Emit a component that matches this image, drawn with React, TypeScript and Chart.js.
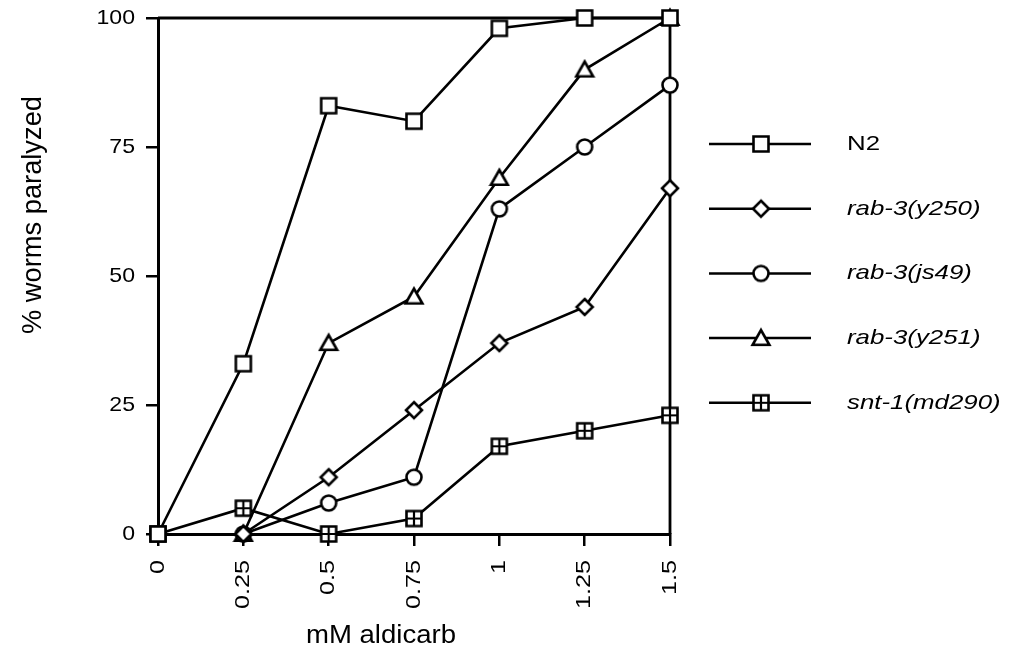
import React, { useEffect, useRef } from 'react';
import { Chart, registerables } from 'chart.js';

Chart.register(...registerables);

const doses = [0, 0.25, 0.5, 0.75, 1, 1.25, 1.5];
const xTickLabels = ['0', '0.25', '0.5', '0.75', '1', '1.25', '1.5'];
const yTickValues = [0, 25, 50, 75, 100];
const yTickLabels = ['0', '25', '50', '75', '100'];
const seriesNames = ['N2', 'rab-3(y250)', 'rab-3(js49)', 'rab-3(y251)', 'snt-1(md290)'];
const italicNames = [false, true, true, true, true];
const n2 = [0, 33, 83, 80, 98, 100, 100];
const rab3y250 = [null, 0, 11, 24, 37, 44, 67];
const rab3js49 = [null, 0, 6, 11, 63, 75, 87];
const rab3y251 = [null, 0, 37, 46, 69, 90, 100];
const snt1md290 = [0, 5, 0, 3, 17, 20, 23];
const markerKinds = ['square', 'diamond', 'circle', 'triangle', 'crossSquare'];
const xTitle = 'mM aldicarb';
const yTitle = '% worms paralyzed';

const FONT = '"Liberation Sans", Arial, Helvetica, sans-serif';

function makeMarker(kind: string): HTMLCanvasElement {
  const c = document.createElement('canvas');
  c.width = 22;
  c.height = 22;
  const ctx = c.getContext('2d')!;
  const cx = 11, cy = 11;
  ctx.lineWidth = 2.6;
  ctx.strokeStyle = '#000';
  ctx.fillStyle = '#fff';
  ctx.beginPath();
  if (kind === 'square' || kind === 'crossSquare') {
    ctx.rect(cx - 7.5, cy - 7.5, 15, 15);
  } else if (kind === 'diamond') {
    ctx.moveTo(cx, cy - 8);
    ctx.lineTo(cx + 8, cy);
    ctx.lineTo(cx, cy + 8);
    ctx.lineTo(cx - 8, cy);
    ctx.closePath();
  } else if (kind === 'circle') {
    ctx.arc(cx, cy, 7.5, 0, Math.PI * 2);
  } else if (kind === 'triangle') {
    ctx.moveTo(cx, cy - 8);
    ctx.lineTo(cx + 8.4, cy + 6.8);
    ctx.lineTo(cx - 8.4, cy + 6.8);
    ctx.closePath();
  }
  ctx.fill();
  ctx.stroke();
  if (kind === 'crossSquare') {
    ctx.beginPath();
    ctx.lineWidth = 2.2;
    ctx.moveTo(cx, cy - 7.5);
    ctx.lineTo(cx, cy + 7.5);
    ctx.moveTo(cx - 7.5, cy);
    ctx.lineTo(cx + 7.5, cy);
    ctx.stroke();
  }
  return c;
}

function drawText(
  ctx: CanvasRenderingContext2D,
  text: string,
  x: number,
  y: number,
  font: string,
  sx: number,
  align: CanvasTextAlign,
  rotate: boolean
) {
  ctx.save();
  ctx.translate(x, y);
  if (rotate) ctx.rotate(-Math.PI / 2);
  ctx.scale(sx, 1);
  ctx.font = font;
  ctx.textAlign = align;
  ctx.textBaseline = 'middle';
  ctx.fillStyle = '#000';
  ctx.fillText(text, 0, 0);
  ctx.restore();
}

export default function App() {
  const ref = useRef<HTMLCanvasElement | null>(null);

  useEffect(() => {
    document.body.style.margin = '0';
    const canvas = ref.current;
    if (!canvas) return;
    const markers = markerKinds.map(makeMarker);
    const values = [n2, rab3y250, rab3js49, rab3y251, snt1md290];

    const framePlugin = {
      id: 'frame',
      beforeDatasetsDraw(chart: any) {
        const { ctx, chartArea } = chart;
        ctx.save();
        ctx.strokeStyle = '#000';
        ctx.lineWidth = 2.8;
        ctx.beginPath();
        ctx.moveTo(chartArea.left, chartArea.top);
        ctx.lineTo(chartArea.right, chartArea.top);
        ctx.lineTo(chartArea.right, chartArea.bottom);
        ctx.stroke();
        ctx.restore();
      },
      afterDraw(chart: any) {
        const { ctx } = chart;
        const xs = chart.scales.x;
        const ys = chart.scales.y;
        yTickValues.forEach((v, i) => {
          drawText(ctx, yTickLabels[i], 135, ys.getPixelForValue(v), `21px ${FONT}`, 1.1, 'right', false);
        });
        doses.forEach((v, i) => {
          drawText(ctx, xTickLabels[i], xs.getPixelForValue(v), 560, `21px ${FONT}`, 1.2, 'right', true);
        });
        drawText(ctx, yTitle, 34, 215, `27px ${FONT}`, 1.01, 'center', true);
        drawText(ctx, xTitle, 381, 636, `26px ${FONT}`, 1.06, 'center', false);
        seriesNames.forEach((name, i) => {
          const y = 144 + i * 64.7;
          ctx.save();
          ctx.strokeStyle = '#000';
          ctx.lineWidth = 2.5;
          ctx.beginPath();
          ctx.moveTo(709, y);
          ctx.lineTo(811, y);
          ctx.stroke();
          const m = markers[i];
          ctx.drawImage(m, 761 - m.width / 2, y - m.height / 2);
          ctx.restore();
          drawText(ctx, name, 847, y, `${italicNames[i] ? 'italic ' : ''}21px ${FONT}`, 1.23, 'left', false);
        });
      },
    };

    const chart = new Chart(canvas, {
      type: 'line',
      data: {
        datasets: seriesNames.map((name, i) => ({
          label: name,
          data: doses
            .map((d, j) => ({ x: d, y: values[i][j] as number | null }))
            .filter((p) => p.y !== null),
          borderColor: '#000',
          backgroundColor: '#fff',
          borderWidth: 2.6,
          pointStyle: markers[i],
          pointRadius: 9,
          pointHoverRadius: 9,
          tension: 0,
          clip: false as any,
          fill: false,
        })),
      },
      options: {
        animation: false,
        responsive: false,
        maintainAspectRatio: false,
        events: [],
        layout: { padding: { left: 0, top: 18, right: 351, bottom: 67 } },
        plugins: { legend: { display: false }, tooltip: { enabled: false }, title: { display: false } },
        scales: {
          x: {
            type: 'linear',
            min: 0,
            max: 1.5,
            afterBuildTicks: (s: any) => {
              s.ticks = doses.map((v) => ({ value: v }));
            },
            afterFit: (s: any) => {
              s.height = 60;
            },
            ticks: { display: false },
            grid: { drawOnChartArea: false, drawTicks: true, tickLength: 12, color: '#000', lineWidth: 2.5 },
            border: { display: true, color: '#000', width: 3 },
          },
          y: {
            type: 'linear',
            min: 0,
            max: 100,
            afterBuildTicks: (s: any) => {
              s.ticks = yTickValues.map((v) => ({ value: v }));
            },
            afterFit: (s: any) => {
              s.width = 158;
            },
            ticks: { display: false },
            grid: { drawOnChartArea: false, drawTicks: true, tickLength: 12, color: '#000', lineWidth: 2.5 },
            border: { display: true, color: '#000', width: 3 },
          },
        },
      },
      plugins: [framePlugin],
    });
    return () => chart.destroy();
  }, []);

  return (
    <div style={{ width: 1021, height: 661, background: '#fff' }}>
      <canvas ref={ref} width={1021} height={661} style={{ display: 'block' }} />
    </div>
  );
}
